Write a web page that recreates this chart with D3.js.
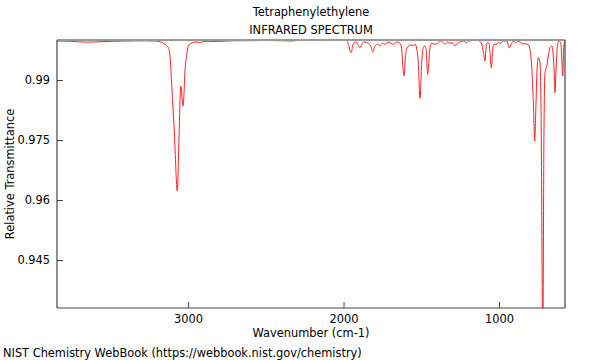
<!DOCTYPE html>
<html><head><meta charset="utf-8">
<script src="https://cdn.jsdelivr.net/npm/d3@7"></script>
<style>body{margin:0;background:#fff}svg{display:block}text{font-family:"DejaVu Sans",sans-serif;fill:#000}</style>
</head><body><svg id="c" width="600" height="360"></svg>
<script>
const titleLines = ["Tetraphenylethylene", "INFRARED SPECTRUM"];
const xLabel = "Wavenumber (cm-1)";
const yLabel = "Relative Transmittance";
const credit = "NIST Chemistry WebBook (https://webbook.nist.gov/chemistry)";
const xMajorTicks = [3000, 2000, 1000];
const yMajorTicks = [0.945, 0.96, 0.975, 0.99];
const yTickLabels = ["0.945", "0.96", "0.975", "0.99"];
const wavenumber = [3843,3759,3650,3534,3392,3277,3212,3180,3161,3148,3127,3116,3105,3088,3069,3058,3047,3032,3019,3008,2998,2976,2955,2923,2891,2815,2711,2601,2473,2331,2312,2215,2055,1979,1969,1952,1937,1922,1905,1894,1879,1862,1841,1825,1812,1797,1780,1765,1751,1733,1716,1701,1680,1658,1637,1626,1619,1611,1603,1594,1572,1551,1540,1529,1519,1508,1497,1487,1478,1469,1465,1459,1450,1444,1433,1412,1390,1375,1358,1347,1332,1315,1300,1283,1268,1251,1230,1208,1191,1165,1143,1127,1111,1101,1090,1084,1075,1064,1058,1049,1040,1032,1015,1004,989,972,950,934,918,908,891,876,854,833,812,801,790,779,770,762,754,747,736,730,718,711,704,693,683,672,659,651,644,640,633,625,614,603,597,590,584,577,576];
const transmittance = [0.99975,0.99968,0.99945,0.99963,0.99975,0.9998,0.99975,0.99955,0.99925,0.99893,0.99808,0.996,0.9885,0.97675,0.96225,0.976,0.9885,0.9835,0.99275,0.9965,0.9985,0.99925,0.9995,0.99938,0.99968,0.99963,0.9998,0.99983,0.99988,0.99975,0.99985,0.99988,0.99993,0.99988,0.99893,0.99683,0.999,0.9995,0.99868,0.99808,0.99918,0.9995,0.99918,0.9985,0.997,0.9985,0.99893,0.9985,0.99918,0.99893,0.9995,0.99933,0.99893,0.9995,0.99918,0.99775,0.9935,0.991,0.99525,0.99775,0.99875,0.99863,0.99893,0.99775,0.99433,0.98538,0.99433,0.99808,0.9985,0.99775,0.99525,0.99143,0.99525,0.99808,0.99918,0.99893,0.99933,0.99975,0.99933,0.99893,0.9995,0.99918,0.99933,0.9985,0.99918,0.9995,0.99975,0.99933,0.99975,0.99993,1.0,0.99975,0.999,0.997,0.99475,0.99775,0.99933,0.99918,0.99683,0.99308,0.99775,0.99893,0.99893,0.99933,0.99918,0.99975,0.99975,0.99808,0.99918,0.99975,0.99933,0.99975,0.99918,0.99905,0.99888,0.99775,0.9935,0.98433,0.97475,0.98433,0.9935,0.99558,0.99433,0.98433,0.925,0.976,0.99183,0.9935,0.996,0.99808,0.9985,0.996,0.991,0.98683,0.99268,0.9985,0.99975,0.99933,0.996,0.991,0.99775,0.99975,0.99988];

const FS = 11.4;
const svg = d3.select("#c");
const L = 57, R = 565, T = 40, B = 308;
const x = d3.scaleLinear().domain([3843, 575.5]).range([L, R]);
const y = d3.scaleLinear().domain([0.933, 1.0]).range([B, T]);

svg.append("defs").append("clipPath").attr("id","clip")
  .append("rect").attr("x",L).attr("y",T).attr("width",R-L).attr("height",B-T);

const data = wavenumber.map((w,i)=>[w, transmittance[i]]);
svg.append("path").datum(data)
  .attr("clip-path","url(#clip)")
  .attr("fill","none").attr("stroke","#ff2020").attr("stroke-width",1)
  .attr("d", d3.line().x(d=>x(d[0])).y(d=>y(d[1])).curve(d3.curveMonotoneX));

// frame
svg.append("line").attr("x1",L).attr("x2",R).attr("y1",T).attr("y2",T).attr("stroke","#999").attr("stroke-width",2);
svg.append("line").attr("x1",L).attr("x2",L).attr("y1",T).attr("y2",B).attr("stroke","#444").attr("stroke-width",1.2);
svg.append("line").attr("x1",R).attr("x2",R).attr("y1",T).attr("y2",B).attr("stroke","#444").attr("stroke-width",1.2);
svg.append("line").attr("x1",L).attr("x2",R).attr("y1",B).attr("y2",B).attr("stroke","#444").attr("stroke-width",1.2);

// x ticks
const xMinor = d3.range(600, 3843, 100).filter(v=>!xMajorTicks.includes(v));
const gx = svg.append("g").attr("transform",`translate(0,${B})`);
gx.call(d3.axisBottom(x).tickValues(xMinor).tickSize(-3).tickFormat("")).call(g=>g.select(".domain").remove());
gx.call(d3.axisBottom(x).tickValues(xMajorTicks).tickSize(-6).tickPadding(7).tickFormat(d3.format("d")))
  .call(g=>g.select(".domain").remove());
gx.selectAll("line").attr("stroke","#444");
gx.selectAll("text").attr("font-size",FS).attr("font-family","DejaVu Sans");

// y ticks
const yMinor = d3.range(0.935, 1.0001, 0.005).filter(v=>!yMajorTicks.some(m=>Math.abs(m-v)<1e-6));
const gy = svg.append("g").attr("transform",`translate(${L},0)`);
gy.call(d3.axisLeft(y).tickValues(yMinor).tickSize(-3).tickFormat("")).call(g=>g.select(".domain").remove());
gy.call(d3.axisLeft(y).tickValues(yMajorTicks).tickSize(-6).tickPadding(7).tickFormat((d,i)=>yTickLabels[i]))
  .call(g=>g.select(".domain").remove());
gy.selectAll("line").attr("stroke","#444");
gy.selectAll("text").attr("font-size",FS).attr("font-family","DejaVu Sans");

// titles
svg.append("text").attr("x",311).attr("y",16).attr("text-anchor","middle").attr("font-size",FS).text(titleLines[0]);
svg.append("text").attr("x",311).attr("y",34).attr("text-anchor","middle").attr("font-size",FS).text(titleLines[1]);
svg.append("text").attr("x",311).attr("y",337).attr("text-anchor","middle").attr("font-size",FS).text(xLabel);
svg.append("text").attr("transform",`translate(14,174) rotate(-90)`).attr("text-anchor","middle").attr("font-size",FS).text(yLabel);
svg.append("text").attr("x",3).attr("y",357).attr("font-size",FS).text(credit);
</script></body></html>
